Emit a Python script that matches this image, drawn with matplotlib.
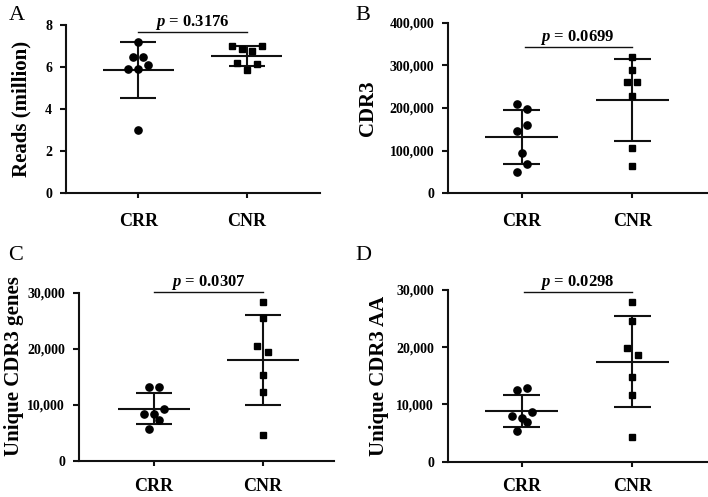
import matplotlib
matplotlib.use('Agg')
import matplotlib.pyplot as plt
import numpy as np
from matplotlib.ticker import FuncFormatter

plt.rcParams['font.family'] = ['Liberation Serif', 'DejaVu Serif']
plt.rcParams['mathtext.fontset'] = 'custom'
plt.rcParams['mathtext.it'] = 'Liberation Serif:italic:bold'
plt.rcParams['mathtext.rm'] = 'Liberation Serif:bold'

# ---------------- data ----------------
groups = ['CRR', 'CNR']

reads_crr = [7.20, 6.46, 6.46, 5.90, 5.90, 6.10, 2.99]
reads_cnr = [7.01, 7.01, 6.84, 6.78, 6.17, 6.14, 5.86]

cdr3_crr = [209000, 198000, 147000, 159000, 94000, 68000, 50000]
cdr3_cnr = [319000, 288000, 261000, 261000, 229000, 107000, 65000]

genes_crr = [13160, 13160, 9290, 8340, 8340, 7210, 5720]
genes_cnr = [28340, 25480, 20480, 19410, 15360, 12210, 4530]

aa_crr = [12590, 12830, 8040, 8640, 7690, 6940, 5420]
aa_cnr = [27870, 24650, 19930, 18710, 14760, 11710, 4370]

p_values = ['0.3176', '0.0699', '0.0307', '0.0298']
y_labels = ['Reads (million)', 'CDR3', 'Unique CDR3 genes', 'Unique CDR3 AA']
panel_letters = ['A', 'B', 'C', 'D']
y_ticks = [[0, 2, 4, 6, 8],
           [0, 100000, 200000, 300000, 400000],
           [0, 10000, 20000, 30000],
           [0, 10000, 20000, 30000]]

# ---------------- layout (positions / styles) ----------------
W, H = 708, 497
# scatter offsets (horizontal spread of points)
off_a_crr = [0, -0.046, 0.046, -0.092, 0, 0.092, 0]
off_a_cnr = [-0.138, 0.138, -0.046, 0.046, -0.092, 0.092, 0]
off_b_crr = [-0.045, 0.05, -0.045, 0.05, 0, 0.05, -0.045]
off_b_cnr = [0, 0, -0.045, 0.045, 0, 0, 0]
off_c_crr = [-0.046, 0.046, 0.095, -0.092, 0, 0.046, -0.046]
off_c_cnr = [0, 0, -0.05, 0.045, 0, 0, 0]
off_d_crr = [-0.045, 0.05, -0.09, 0.096, 0, 0.05, -0.045]
off_d_cnr = [0, 0, -0.05, 0.05, 0, 0, 0]

panels = [
    dict(crr=reads_crr, cnr=reads_cnr, ocrr=off_a_crr, ocnr=off_a_cnr,
         rect=(66, 193, 320, 25), xlim=(-0.667, 1.676), ylim=(0, 8),
         pline=7.65, plx=(0, 1), labx=-0.174, laby=0.5, fmt=None,
         letter=(9, 20), xpad=11),
    dict(crr=cdr3_crr, cnr=cdr3_cnr, ocrr=off_b_crr, ocnr=off_b_cnr,
         rect=(448, 193.3, 707, 22.7), xlim=(-0.666, 1.675), ylim=(0, 400000),
         pline=342000, plx=(0.03, 1), labx=-0.309, laby=0.5, fmt=True,
         letter=(355, 20), xpad=11),
    dict(crr=genes_crr, cnr=genes_cnr, ocrr=off_c_crr, ocnr=off_c_cnr,
         rect=(79, 460.7, 334, 292.7), xlim=(-0.69, 1.656), ylim=(0, 30000),
         pline=30200, plx=(0, 1), labx=-0.255, laby=0.565, fmt=True,
         letter=(8, 260), xpad=9),
    dict(crr=aa_crr, cnr=aa_cnr, ocrr=off_d_crr, ocnr=off_d_cnr,
         rect=(448, 461.7, 707, 290), xlim=(-0.666, 1.675), ylim=(0, 30000),
         pline=29600, plx=(0.02, 1), labx=-0.266, laby=0.5, fmt=True,
         letter=(355, 260), xpad=8),
]

fig = plt.figure(figsize=(W / 100, H / 100), dpi=100)
lw = 1.5
col = '#111111'

for i, p in enumerate(panels):
    x0, yb, x1, yt = p['rect']
    ax = fig.add_axes([x0 / W, (H - yb) / H, (x1 - x0) / W, (yb - yt) / H])
    ax.set_xlim(*p['xlim'])
    ax.set_ylim(*p['ylim'])
    for s in ['top', 'right']:
        ax.spines[s].set_visible(False)
    for s in ['left', 'bottom']:
        ax.spines[s].set_linewidth(lw)
        ax.spines[s].set_color(col)

    for gi, (vals, offs, mk) in enumerate([(p['crr'], p['ocrr'], 'o'),
                                           (p['cnr'], p['ocnr'], 's')]):
        v = np.array(vals, dtype=float)
        m = v.mean()
        sd = v.std(ddof=1)
        ax.plot(gi + np.array(offs), v, linestyle='none', marker=mk,
                markersize=5.2 if mk == 'o' else 5.0, color='black', zorder=3)
        ax.hlines(m, gi - 0.33, gi + 0.33, color=col, lw=lw, zorder=2)
        ax.hlines([m - sd, m + sd], gi - 0.167, gi + 0.167, color=col, lw=lw, zorder=2)
        ax.vlines(gi, m - sd, m + sd, color=col, lw=lw, zorder=2)

    # significance line
    ax.plot(p['plx'], [p['pline'], p['pline']], color=col, lw=1.0, clip_on=False)
    ax.text(0.5, p['pline'], r'$p$ = ' + p_values[i], ha='center', va='bottom',
            fontsize=12, fontweight='bold', clip_on=False)

    ax.set_xticks([0, 1])
    ax.set_xticklabels(groups, fontsize=13, fontweight='bold')
    ax.set_yticks(y_ticks[i])
    if p['fmt']:
        ax.yaxis.set_major_formatter(FuncFormatter(lambda v, pos: f'{v:,.0f}'))
    for lab in ax.get_yticklabels():
        lab.set_fontweight('bold')
        lab.set_fontsize(10)
    ax.tick_params(axis='y', length=4, width=lw, pad=6, color=col)
    ax.tick_params(axis='x', length=3.5, width=lw, pad=p['xpad'], color=col)

    ax.set_ylabel(y_labels[i], fontsize=15, fontweight='bold', va='center')
    ax.yaxis.set_label_coords(p['labx'], p['laby'])

    lx, ly = p['letter']
    fig.text(lx / W, 1 - ly / H, panel_letters[i], fontsize=16,
             ha='left', va='baseline')

fig.savefig('out.png', dpi=100)
